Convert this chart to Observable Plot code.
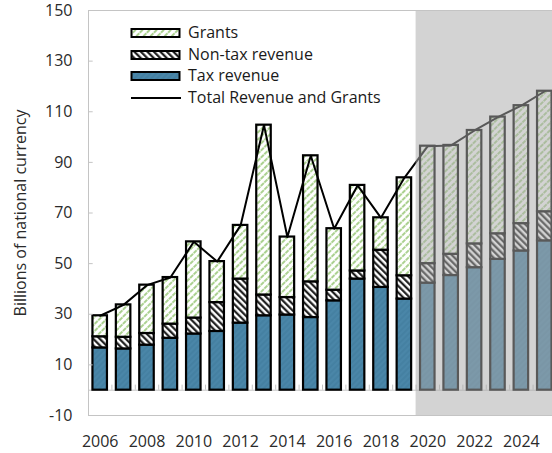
<!DOCTYPE html>
<html><head><meta charset="utf-8">
<script src="https://cdn.jsdelivr.net/npm/d3@7"></script>
<script src="https://cdn.jsdelivr.net/npm/@observablehq/plot@0.6"></script>
<style>
body{margin:0;background:#fff;font-family:"Open Sans",sans-serif;}
#wrap{position:relative;width:552px;height:453px;overflow:hidden}
#legend{position:absolute;left:130px;top:22px;font-size:16px;color:#1a1a1a;line-height:21.7px}
#legend .row{display:flex;align-items:center;height:21.7px}
#legend svg{margin-right:6px;flex:none}
</style></head><body>
<svg width="0" height="0" style="position:absolute">
  <defs>
    <pattern id="patGrants" patternUnits="userSpaceOnUse" width="5" height="5" patternTransform="rotate(45)">
      <rect width="5" height="5" fill="#fff"/>
      <line x1="1" y1="0" x2="1" y2="5" stroke="#8fc26c" stroke-width="1.5" stroke-dasharray="2.2,0.8"/>
    </pattern>
    <pattern id="patNonTax" patternUnits="userSpaceOnUse" width="4.6" height="4.6" patternTransform="rotate(-45)">
      <rect width="4.6" height="4.6" fill="#fff"/>
      <line x1="1.2" y1="0" x2="1.2" y2="4.6" stroke="#111" stroke-width="2.1"/>
    </pattern>
    <pattern id="patTax" patternUnits="userSpaceOnUse" width="4" height="4" patternTransform="rotate(45)">
      <rect width="4" height="4" fill="#4a86a8"/>
      <line x1="1" y1="0" x2="1" y2="4" stroke="#3f7b9d" stroke-width="1"/>
    </pattern>
  </defs>
</svg>
<div id="wrap">
  <div id="legend"></div>
</div>
<script>
const years = [2006,2007,2008,2009,2010,2011,2012,2013,2014,2015,2016,2017,2018,2019,2020,2021,2022,2023,2024,2025];
const taxRevenue = [16.7,16.3,17.8,20.5,22.2,23.2,26.5,29.4,29.7,28.7,35.3,43.9,40.6,36.0,42.3,45.3,48.4,51.7,55.0,59.0];
const nonTaxRevenue = [4.4,4.6,4.6,5.6,6.3,11.4,17.4,8.2,6.9,14.1,4.2,3.2,14.7,9.2,7.7,8.4,9.4,10.1,10.8,11.5];
const grants = [8.3,12.8,19.1,18.4,30.1,16.2,21.2,67.1,23.9,49.8,24.3,33.8,12.8,38.7,46.4,43.0,44.8,46.1,46.6,47.6];
const seriesNames = ["Tax revenue","Non-tax revenue","Grants"];
const legendNames = ["Grants","Non-tax revenue","Tax revenue","Total Revenue and Grants"];
const yTicks = [-10,10,30,50,70,90,110,130,150];
const xTicks = [2006,2008,2010,2012,2014,2016,2018,2020,2022,2024];
const projectionStart = 2019.5;
const yLabel = "Billions of national currency";

const fills = {"Tax revenue":"url(#patTax)","Non-tax revenue":"url(#patNonTax)","Grants":"url(#patGrants)"};

const stacked = [];
const totals = [];
years.forEach((yr,i) => {
  const vals = [taxRevenue[i], nonTaxRevenue[i], grants[i]];
  let base = 0;
  vals.forEach((v,k) => { stacked.push({year:yr, series:seriesNames[k], y1:base, y2:base+v}); base += v; });
  totals.push({year:yr, total: base});
});

const xMin = 2005.5, xMax = 2025.33;
const half = 0.31;

const chart = Plot.plot({
  width: 552, height: 453,
  marginLeft: 88, marginRight: 0, marginTop: 10, marginBottom: 38,
  style: {fontFamily: '"Open Sans", sans-serif', fontSize: "16px", color: "#2a2a2a", background: "transparent"},
  x: {domain: [xMin, xMax]},
  y: {domain: [-10, 150]},
  marks: [
    Plot.ruleY([0], {stroke: "#c4c4c4", strokeWidth: 1}),
    Plot.ruleX(d3.range(xMin, 2025, 1), {y1: 0, y2: 2, stroke: "#c4c4c4"}),
    Plot.rectY(stacked, {x1: d => d.year - half, x2: d => d.year + half, y1: "y1", y2: "y2",
      fill: d => fills[d.series], stroke: "#000", strokeWidth: 2.2}),
    Plot.line(totals, {x: "year", y: "total", stroke: "#000", strokeWidth: 2}),
    Plot.rect([projectionStart], {x1: d => d, x2: xMax, y1: -10, y2: 150, fill: "rgb(170,170,170)", fillOpacity: 0.52}),
    Plot.ruleX([xMin], {y1: -10, y2: 150, stroke: "#c4c4c4"}),
    Plot.ruleY([-10, 150], {x1: xMin, x2: xMax, stroke: "#c4c4c4"}),
    Plot.ruleY(yTicks.slice(1, -1), {x1: xMin, x2: xMin + 0.2, stroke: "#c4c4c4"}),
    Plot.axisY(yTicks, {tickSize: 0, tickPadding: 16, tickFormat: d => String(d), label: null}),
    Plot.axisX(xTicks, {tickSize: 0, tickPadding: 20, tickFormat: d => String(d), label: null}),
    Plot.text([yLabel], {frameAnchor: "left", rotate: -90, dx: -68, textAnchor: "middle", text: d => d, fontSize: 16, fill: "#2a2a2a"})
  ]
});
document.getElementById("wrap").insertBefore(chart, document.getElementById("legend"));

const legendFill = {"Grants":"url(#patGrants)","Non-tax revenue":"url(#patNonTax)","Tax revenue":"url(#patTax)"};
const leg = document.getElementById("legend");
legendNames.forEach(name => {
  const row = document.createElement("div");
  row.className = "row";
  const sw = name in legendFill
    ? `<svg width="52" height="12"><rect x="1.5" y="2" width="48" height="8" fill="${legendFill[name]}" stroke="#000" stroke-width="2"/></svg>`
    : `<svg width="52" height="12"><line x1="1" y1="6" x2="51" y2="6" stroke="#000" stroke-width="2"/></svg>`;
  row.innerHTML = sw + `<span>${name}</span>`;
  leg.appendChild(row);
});
</script>
</body></html>
